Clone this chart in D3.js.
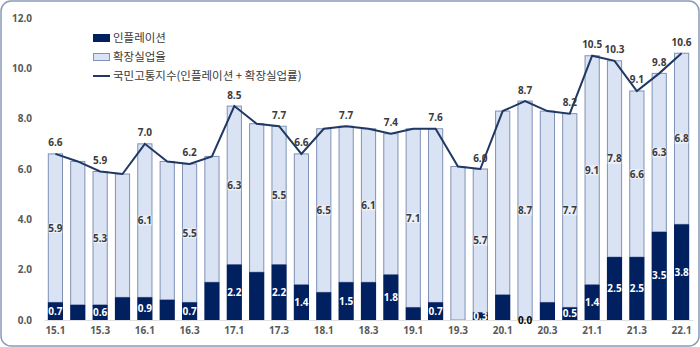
<!DOCTYPE html>
<html><head><meta charset="utf-8">
<script src="https://cdn.jsdelivr.net/npm/d3@7"></script>
<style>body{margin:0;background:#fff}svg{display:block}</style>
</head><body>
<svg id="c" width="700" height="347"></svg>
<script>
const quarters = ["15.1","15.2","15.3","15.4","16.1","16.2","16.3","16.4","17.1","17.2","17.3","17.4","18.1","18.2","18.3","18.4","19.1","19.2","19.3","19.4","20.1","20.2","20.3","20.4","21.1","21.2","21.3","21.4","22.1"];
const inflation = [0.7,0.6,0.6,0.9,0.9,0.8,0.7,1.5,2.2,1.9,2.2,1.4,1.1,1.5,1.5,1.8,0.5,0.7,0.0,0.3,1.0,0.0,0.7,0.5,1.4,2.5,2.5,3.5,3.8];
const unemployment = [5.9,5.7,5.3,4.9,6.1,5.5,5.5,5.0,6.3,5.9,5.5,5.2,6.5,6.2,6.1,5.6,7.1,6.9,6.1,5.7,7.3,8.7,7.6,7.7,9.1,7.8,6.6,6.3,6.8];
const misery = [6.6,6.3,5.9,5.8,7.0,6.3,6.2,6.5,8.5,7.8,7.7,6.6,7.6,7.7,7.6,7.4,7.6,7.6,6.1,6.0,8.3,8.7,8.3,8.2,10.5,10.3,9.1,9.8,10.6];
const tickQuarters = ["15.1","15.3","16.1","16.3","17.1","17.3","18.1","18.3","19.1","19.3","20.1","20.3","21.1","21.3","22.1"];
const yTicks = [0,2,4,6,8,10,12];
const labeled = [0,2,4,6,8,10,11,13,15,17,19,21,23,24,25,26,27,28];
const unempLabeled = [0,2,4,6,8,10,12,14,16,19,21,23,24,25,26,27,28];
const seriesNames = ["인플레이션","확장실업율","국민고통지수(인플레이션 + 확장실업률)"];

const C = {dark:"#002060", light:"#dae3f3", lightStroke:"#7f91b6", line:"#1f3864", text:"#3a3a3a", axis:"#595959"};
const numFont = "'Open Sans', sans-serif";
const krFont = "'Noto Sans CJK KR', sans-serif";
const fs = 10;

const svg = d3.select("#c");
svg.append("rect").attr("x",1).attr("y",1).attr("width",698).attr("height",345).attr("rx",10)
  .attr("fill","#fff").attr("stroke","#8a9bb8").attr("stroke-width",1.5);

const x = d3.scaleBand().domain(quarters).range([44,693]).paddingInner(0.32).paddingOuter(0.17);
const y = d3.scaleLinear().domain([0,12]).range([320,18]);
const bw = x.bandwidth();
const cx = q => x(q) + bw/2;

// y axis
const yAxis = svg.append("g").attr("transform","translate(32,0)")
  .call(d3.axisLeft(y).tickValues(yTicks).tickFormat(d3.format(".1f")).tickSize(0).tickPadding(0));
yAxis.select(".domain").remove();
yAxis.selectAll("text").attr("font-family",numFont).attr("font-weight","bold").attr("font-size",fs).attr("fill",C.axis);

// bars
const g = svg.append("g");
g.selectAll(".u").data(quarters).join("rect")
  .attr("x",d=>x(d)+0.5).attr("width",bw-1)
  .attr("y",(d,i)=>y(misery[i])).attr("height",(d,i)=>y(inflation[i])-y(misery[i]))
  .attr("fill",C.light).attr("stroke",C.lightStroke).attr("stroke-width",1);
g.selectAll(".i").data(quarters).join("rect")
  .attr("x",d=>x(d)).attr("width",bw)
  .attr("y",(d,i)=>y(inflation[i])).attr("height",(d,i)=>y(0)-y(inflation[i]))
  .attr("fill",C.dark);

// x axis
const xAxis = svg.append("g").attr("transform","translate(0,320)")
  .call(d3.axisBottom(x).tickValues(tickQuarters).tickSize(0).tickPadding(7));
xAxis.select(".domain").attr("stroke","#e0e0e0");
xAxis.selectAll("text").attr("font-family",numFont).attr("font-weight","bold").attr("font-size",fs).attr("fill",C.axis);

// line
const line = d3.line().x((d,i)=>cx(quarters[i])).y(d=>y(d));
svg.append("path").datum(misery).attr("d",line).attr("fill","none").attr("stroke",C.line).attr("stroke-width",2);

// unemployment labels
const ul = svg.append("g");
unempLabeled.forEach(i=>{
  const yy = y(inflation[i] + unemployment[i]/2);
  ul.append("rect").attr("x",cx(quarters[i])-7).attr("y",yy-5).attr("width",14).attr("height",10).attr("fill","#fff").attr("opacity",0.45);
  ul.append("text").attr("x",cx(quarters[i])).attr("y",yy).attr("dy","0.35em").attr("text-anchor","middle")
    .attr("font-family",numFont).attr("font-weight","bold").attr("font-size",fs).attr("fill",C.text)
    .text(unemployment[i].toFixed(1));
});
// inflation labels
labeled.forEach(i=>{
  const zero = inflation[i]===0;
  svg.append("text").attr("x",cx(quarters[i])).attr("y",zero?y(0):y(inflation[i]/2)).attr("dy","0.35em").attr("text-anchor","middle")
    .attr("font-family",numFont).attr("font-weight","bold").attr("font-size",fs).attr("fill",zero?"#000":"#fff")
    .text(inflation[i].toFixed(1));
});
// total labels
labeled.forEach(i=>{
  svg.append("text").attr("x",cx(quarters[i])).attr("y",y(misery[i])-11).attr("dy","0.35em").attr("text-anchor","middle")
    .attr("font-family",numFont).attr("font-weight","bold").attr("font-size",fs).attr("fill",C.text)
    .text(misery[i].toFixed(1));
});

// legend
const lg = svg.append("g").attr("transform","translate(93,38)");
lg.append("rect").attr("x",0).attr("y",-4).attr("width",17).attr("height",8).attr("fill",C.dark);
lg.append("rect").attr("x",0.5).attr("y",15.5).attr("width",16).attr("height",7).attr("fill",C.light).attr("stroke",C.lightStroke);
lg.append("line").attr("x1",0).attr("x2",17).attr("y1",38).attr("y2",38).attr("stroke",C.line).attr("stroke-width",2);
seriesNames.forEach((s,i)=>{
  lg.append("text").attr("x",20).attr("y",i*19).attr("dy","0.35em").attr("font-family",krFont).attr("font-size",11.5).attr("fill",C.text).text(s);
});
</script>
</body></html>
